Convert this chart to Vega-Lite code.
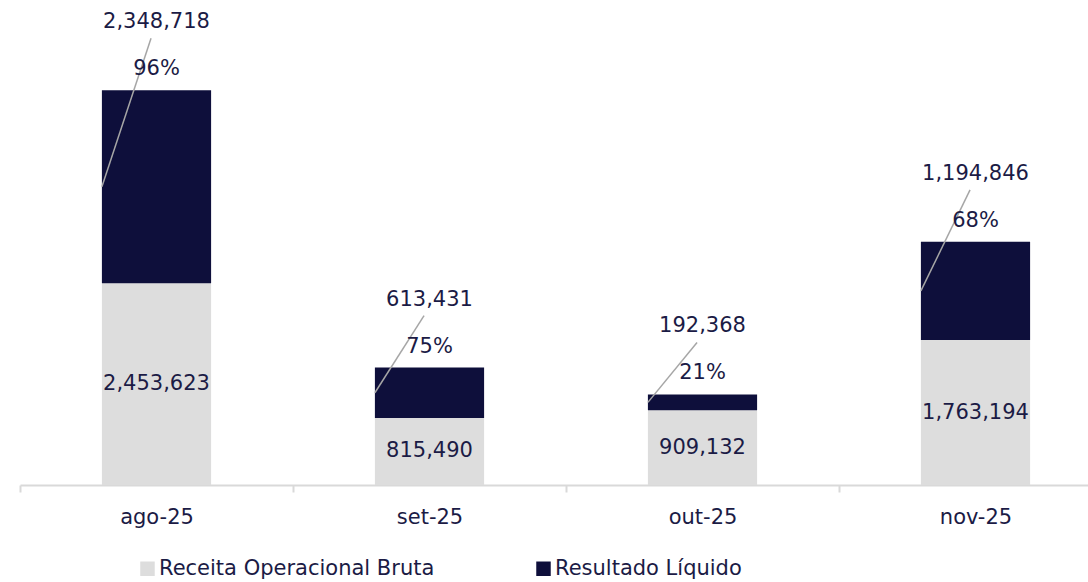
{
  "$schema": "https://vega.github.io/schema/vega-lite/v6.json",
  "width": 1068,
  "height": 485,
  "autosize": {"type": "none"},
  "padding": {"left": 20, "top": 0, "right": 0, "bottom": 97},
  "background": "white",
  "config": {"view": {"stroke": null}, "font": "DejaVu Sans"},
  "data": {
    "values": [
      {"mes": "ago-25", "serie": "Receita Operacional Bruta", "valor": 2453623},
      {"mes": "ago-25", "serie": "Resultado Líquido", "valor": 2348718},
      {"mes": "set-25", "serie": "Receita Operacional Bruta", "valor": 815490},
      {"mes": "set-25", "serie": "Resultado Líquido", "valor": 613431},
      {"mes": "out-25", "serie": "Receita Operacional Bruta", "valor": 909132},
      {"mes": "out-25", "serie": "Resultado Líquido", "valor": 192368},
      {"mes": "nov-25", "serie": "Receita Operacional Bruta", "valor": 1763194},
      {"mes": "nov-25", "serie": "Resultado Líquido", "valor": 1194846}
    ]
  },
  "layer": [
    {
      "mark": {"type": "bar", "width": {"band": 0.4}},
      "encoding": {
        "x": {
          "field": "mes", "type": "nominal",
          "sort": ["ago-25", "set-25", "out-25", "nov-25"],
          "scale": {"range": [0, 1092], "paddingInner": 0, "paddingOuter": 0},
          "axis": {
            "title": null, "labelAngle": 0, "labelFont": "DejaVu Sans", "labelFontSize": 21,
            "labelColor": "#1b1b45", "labelPadding": 14,
            "domainColor": "#d9d9d9", "domainWidth": 2,
            "tickColor": "#d9d9d9", "tickWidth": 2, "tickSize": 7, "tickBand": "extent",
            "grid": false
          }
        },
        "y": {
          "field": "valor", "type": "quantitative", "stack": "zero",
          "scale": {"domain": [0, 5900000], "nice": false}, "axis": null
        },
        "color": {
          "field": "serie", "type": "nominal",
          "scale": {"domain": ["Receita Operacional Bruta", "Resultado Líquido"], "range": ["#dddddd", "#0e0f3b"]},
          "legend": {
            "title": null, "orient": "none", "direction": "horizontal",
            "legendX": 117, "legendY": 558,
            "symbolType": "square", "symbolSize": 210, "symbolStrokeWidth": 0,
            "labelFont": "DejaVu Sans", "labelFontSize": 21, "labelColor": "#1b1b45",
            "labelOffset": 1, "columnPadding": 98, "labelLimit": 500
          }
        },
        "order": {"field": "serie", "sort": "ascending"}
      }
    },
    {
      "transform": [
        {"pivot": "serie", "value": "valor", "groupby": ["mes"]},
        {"calculate": "datum['Receita Operacional Bruta']", "as": "receita"},
        {"calculate": "datum['Resultado Líquido']", "as": "resultado"},
        {"calculate": "datum.receita / 2", "as": "meioReceita"},
        {"calculate": "datum.receita + datum.resultado / 2", "as": "meioResultado"},
        {"calculate": "datum.receita + datum.resultado", "as": "total"},
        {"calculate": "datum.resultado / datum.receita", "as": "margem"}
      ],
      "layer": [
        {
          "mark": {"type": "text", "font": "DejaVu Sans", "fontSize": 21, "color": "#1b1b45", "baseline": "middle"},
          "encoding": {
            "x": {"field": "mes", "type": "nominal", "sort": ["ago-25", "set-25", "out-25", "nov-25"]},
            "y": {"field": "meioReceita", "type": "quantitative"},
            "text": {"field": "receita", "type": "quantitative", "format": ",.0f"}
          }
        },
        {
          "mark": {"type": "rule", "color": "#a6a6a6", "strokeWidth": 1.5, "y2Offset": -52},
          "encoding": {
            "x": {"field": "mes", "type": "nominal", "sort": ["ago-25", "set-25", "out-25", "nov-25"], "bandPosition": 0.3},
            "x2": {"field": "mes", "bandPosition": 0.48},
            "y": {"field": "meioResultado", "type": "quantitative"},
            "y2": {"field": "total"}
          }
        },
        {
          "mark": {"type": "text", "font": "DejaVu Sans", "fontSize": 21, "color": "#1b1b45", "baseline": "middle", "dy": -68},
          "encoding": {
            "x": {"field": "mes", "type": "nominal", "sort": ["ago-25", "set-25", "out-25", "nov-25"]},
            "y": {"field": "total", "type": "quantitative"},
            "text": {"field": "resultado", "type": "quantitative", "format": ",.0f"}
          }
        },
        {
          "mark": {"type": "text", "font": "DejaVu Sans", "fontSize": 21, "color": "#1b1b45", "baseline": "middle", "dy": -21},
          "encoding": {
            "x": {"field": "mes", "type": "nominal", "sort": ["ago-25", "set-25", "out-25", "nov-25"]},
            "y": {"field": "total", "type": "quantitative"},
            "text": {"field": "margem", "type": "quantitative", "format": ".0%"}
          }
        }
      ]
    }
  ]
}
